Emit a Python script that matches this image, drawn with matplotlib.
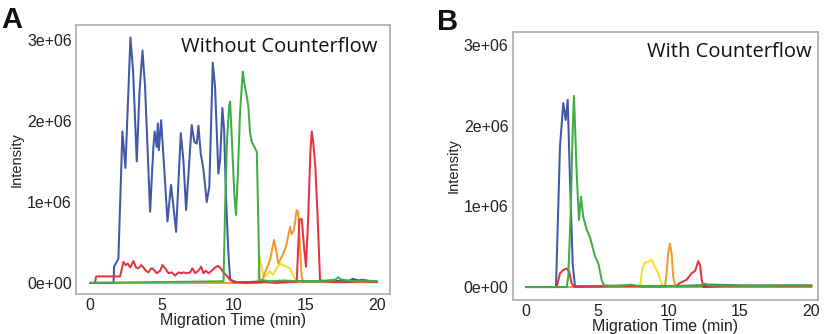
import matplotlib
matplotlib.use("Agg")
import matplotlib.pyplot as plt
from matplotlib.ticker import FuncFormatter

# Panel A - without counterflow (intensity in units of 1e6)
a_blue_t = [0, 1.63, 1.67, 1.97, 2.25, 2.46, 2.81, 3.0, 3.25, 3.44, 3.65, 3.83, 4.18, 4.41, 4.5, 4.64,
            4.72, 4.79, 4.95, 5.23, 5.39, 5.64, 5.81, 5.99, 6.32, 6.5, 6.69, 7.08, 7.27, 7.43, 7.55,
            7.71, 7.9, 8.13, 8.31, 8.55, 8.71, 8.94, 9.06, 9.22, 9.34, 9.48, 9.64, 9.76, 10.2, 11.0,
            12.0, 13.0, 14.0, 15.0, 16.0, 17.0, 17.6, 18.0, 18.3, 18.7, 19.0, 19.5, 20.0]
a_blue_v = [0, 0, 0.2, 0.3, 1.87, 1.42, 3.03, 2.6, 1.5, 2.36, 2.87, 2.42, 0.88, 1.68, 1.87, 1.68,
            1.97, 1.64, 2.01, 1.23, 0.76, 1.21, 0.94, 0.63, 1.85, 1.52, 0.9, 1.95, 1.74, 1.72, 1.94,
            1.6, 1.4, 1.0, 1.19, 2.72, 2.42, 1.35, 1.52, 2.16, 1.89, 1.02, 0.37, 0.04, 0.01, 0.01,
            0.02, 0.01, 0.02, 0.02, 0.02, 0.02, 0.03, 0.02, 0.05, 0.03, 0.04, 0.02, 0.02]

a_green_t = [0, 9.3, 9.42, 9.55, 9.7, 9.76, 9.9, 10.05, 10.17, 10.3, 10.45, 10.64, 10.72, 10.82,
             10.92, 11.03, 11.15, 11.27, 11.45, 11.62, 11.72, 11.8, 12.5, 13.5, 14.5, 15.5, 16.5,
             17.1, 17.3, 17.5, 18.0, 18.6, 19.2, 20.0]
a_green_v = [0, 0.02, 1.0, 1.8, 2.2, 2.24, 1.7, 1.1, 0.84, 1.35, 2.1, 2.61, 2.5, 2.4, 2.3, 2.18,
             1.85, 1.74, 1.68, 1.62, 0.8, 0.04, 0.02, 0.03, 0.02, 0.02, 0.03, 0.04, 0.07, 0.04,
             0.03, 0.02, 0.03, 0.02]

a_red_t = [0.35, 0.42, 2.09, 2.32, 2.48, 2.62, 2.79, 3.02, 3.2, 3.37, 3.56, 3.72, 3.88, 4.07, 4.25,
           4.41, 4.64, 4.88, 5.04, 5.23, 5.46, 5.69, 5.92, 6.16, 6.34, 6.5, 6.74, 6.97, 7.13, 7.32,
           7.55, 7.74, 7.9, 8.06, 8.25, 8.48, 8.71, 8.9, 9.06, 9.29, 9.52, 9.75, 9.99, 11.0, 12.0,
           13.0, 14.0, 14.4, 14.59, 14.75, 14.91, 15.05, 15.2, 15.35, 15.45, 15.55, 15.7, 15.85,
           16.03, 17.0, 18.0, 19.0, 20.0]
a_red_v = [0.02, 0.08, 0.08, 0.26, 0.22, 0.24, 0.19, 0.27, 0.19, 0.18, 0.22, 0.19, 0.15, 0.13, 0.18,
           0.17, 0.12, 0.15, 0.22, 0.18, 0.12, 0.13, 0.09, 0.13, 0.12, 0.13, 0.12, 0.13, 0.18, 0.12,
           0.15, 0.2, 0.12, 0.15, 0.12, 0.15, 0.19, 0.21, 0.19, 0.13, 0.09, 0.04, 0.01, 0.0, 0.01,
           0.0, 0.01, 0.01, 0.78, 0.79, 0.45, 0.2, 0.8, 1.6, 1.87, 1.75, 1.43, 0.86, 0.03, 0.01,
           0.01, 0.02, 0.01]

a_yellow_t = [0, 11.7, 11.8, 11.96, 12.13, 12.3, 12.54, 12.75, 13.0, 13.24, 13.45, 13.7, 13.94,
              14.13, 14.3, 14.5, 20.0]
a_yellow_v = [0, 0.0, 0.33, 0.18, 0.07, 0.1, 0.14, 0.1, 0.18, 0.24, 0.22, 0.2, 0.18, 0.1, 0.04,
              0.01, 0.01]

a_orange_t = [0, 12.0, 12.08, 12.31, 12.54, 12.73, 12.82, 12.96, 13.12, 13.3, 13.47, 13.66, 13.82,
              13.94, 14.05, 14.2, 14.4, 14.5, 14.63, 14.75, 14.85, 20.0]
a_orange_v = [0, 0.0, 0.08, 0.18, 0.28, 0.45, 0.53, 0.41, 0.24, 0.3, 0.37, 0.45, 0.59, 0.69, 0.6,
              0.65, 0.9, 0.88, 0.45, 0.08, 0.01, 0.01]

# Panel B - with counterflow
b_blue_t = [0, 2.1, 2.38, 2.61, 2.78, 2.92, 3.08, 3.27, 3.43, 5.0, 7.0, 8.0, 10.0, 12.0, 13.0,
            15.0, 17.0, 18.5, 20.0]
b_blue_v = [0, 0, 1.74, 2.28, 2.07, 2.32, 1.33, 0.29, 0.01, 0.01, 0.02, 0.01, 0.01, 0.02, 0.03,
            0.02, 0.02, 0.02, 0.02]

b_green_t = [0, 2.85, 2.96, 3.13, 3.27, 3.36, 3.55, 3.71, 3.85, 4.01, 4.25, 4.48, 4.83, 5.07,
             5.3, 5.46, 6.5, 7.3, 7.6, 8.5, 10.0, 12.0, 12.5, 13.0, 14.0, 16.0, 18.0, 20.0]
b_green_v = [0, 0, 0.13, 0.91, 1.95, 2.37, 1.41, 0.83, 1.12, 0.87, 0.71, 0.62, 0.38, 0.29, 0.09,
             0.02, 0.01, 0.03, 0.02, 0.01, 0.01, 0.01, 0.04, 0.02, 0.02, 0.01, 0.02, 0.02]

b_red_t = [0, 2.15, 2.38, 2.61, 2.85, 3.03, 3.2, 3.43, 6.0, 9.0, 10.5, 10.78, 11.25, 11.6, 11.85,
           12.07, 12.2, 12.3, 12.43, 14.0, 17.0, 20.0]
b_red_v = [0, 0, 0.17, 0.21, 0.23, 0.19, 0.04, 0.0, 0.01, 0.01, 0.01, 0.05, 0.09, 0.17, 0.2, 0.32,
           0.27, 0.1, 0.0, 0.01, 0.01, 0.01]

b_yellow_t = [0, 7.98, 8.17, 8.33, 8.56, 8.8, 9.03, 9.27, 9.5, 9.6, 20.0]
b_yellow_v = [0, 0, 0.25, 0.3, 0.31, 0.34, 0.25, 0.17, 0.04, 0, 0]

b_orange_t = [0, 9.73, 9.85, 9.96, 10.08, 10.2, 10.32, 10.48, 20.0]
b_orange_v = [0, 0, 0.17, 0.41, 0.54, 0.41, 0.12, 0, 0]

yticks = [0, 1e6, 2e6, 3e6]
xticks = [0, 5, 10, 15, 20]

colors = {'yellow': '#f3df2c', 'orange': '#f29a30', 'blue': '#4157a8',
          'red': '#e6323d', 'green': '#3fae45'}

panels = [
    dict(letter='A', title='Without Counterflow', rect=[0.092, 0.120, 0.380, 0.805],
         xlim=(-0.98, 20.93), ylim=(-0.136e6, 3.185e6), letter_pos=(0.001, 0.916),
         series=[('yellow', a_yellow_t, a_yellow_v), ('orange', a_orange_t, a_orange_v),
                 ('blue', a_blue_t, a_blue_v), ('red', a_red_t, a_red_v),
                 ('green', a_green_t, a_green_v)]),
    dict(letter='B', title='With Counterflow', rect=[0.620, 0.102, 0.369, 0.802],
         xlim=(-0.93, 20.45), ylim=(-0.16e6, 3.16e6), letter_pos=(0.529, 0.910),
         series=[('yellow', b_yellow_t, b_yellow_v), ('orange', b_orange_t, b_orange_v),
                 ('blue', b_blue_t, b_blue_v), ('red', b_red_t, b_red_v),
                 ('green', b_green_t, b_green_v)]),
]

fig = plt.figure(figsize=(8.27, 3.34), dpi=100)
tickfont = 'Liberation Sans'

for p in panels:
    ax = fig.add_axes(p['rect'])
    for cname, t, v in p['series']:
        ax.plot(t, [x * 1e6 for x in v], color=colors[cname], lw=1.45,
                solid_joinstyle='round', solid_capstyle='round')
    ax.set_xlim(*p['xlim'])
    ax.set_ylim(*p['ylim'])
    ax.set_xticks(xticks)
    ax.set_yticks(yticks)
    ax.yaxis.set_major_formatter(FuncFormatter(lambda v, pos: f"{v:.0e}"))
    ax.tick_params(length=0, pad=3, labelsize=11.5, labelcolor='#222222')
    for lab in ax.get_xticklabels() + ax.get_yticklabels():
        lab.set_fontfamily(tickfont)
    for s in ax.spines.values():
        s.set_color('#b0b0b0')
        s.set_linewidth(1.3)
    ax.set_xlabel('Migration Time (min)', fontsize=11.5, family=tickfont, labelpad=0, color='#222222')
    ax.set_ylabel('Intensity', fontsize=10.5, family=tickfont, labelpad=2.5, color='#222222')
    ax.text(20, 2.85e6, p['title'], ha='right', va='baseline', fontsize=14.5,
            family='Open Sans', color='#111111')
    fig.text(p['letter_pos'][0], p['letter_pos'][1], p['letter'], fontsize=21,
             fontweight='bold', family=tickfont, color='#111111')

fig.savefig('out.png', dpi=100)
